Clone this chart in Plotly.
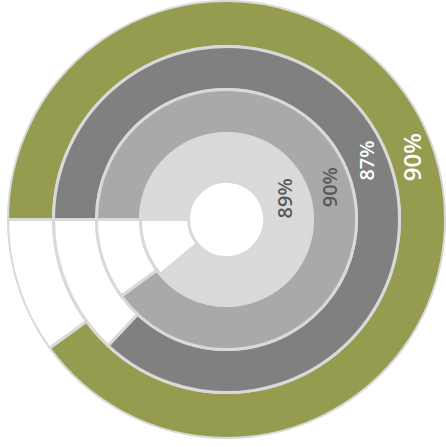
import plotly.graph_objects as go
import math

# Data (outer ring first)
rings = ["Ring 1", "Ring 2", "Ring 3", "Ring 4"]
values = [90, 87, 90, 89]
labels = ["90%", "87%", "90%", "89%"]

# Styling
colors = ["#959c4f", "#808080", "#a9a9a9", "#dadada"]
label_colors = ["#ffffff", "#ffffff", "#5a5a5a", "#5a5a5a"]
label_sizes = [24, 20, 20, 20]
label_angles = [18.6, 22.9, 17.6, 19.7]  # degrees above 3 o'clock
ring_edges = [219, 173, 130, 86, 38]       # radii in px units
border = "#d9d9d9"

W, H = 446, 447
dom_x = [7 / W, 1.0]
dom_y = [(H - 439) / H, 1.0]
R = 219.5

fig = go.Figure()
for i, (name, v) in enumerate(zip(rings, values)):
    r_out, r_in = ring_edges[i], ring_edges[i + 1]
    span = v / 100 * 360
    fig.add_trace(go.Barpolar(
        r=[r_out - r_in, r_out - r_in],
        base=[r_in, r_in],
        theta=[span / 2, span + (360 - span) / 2],
        width=[span, 360 - span],
        marker=dict(color=[colors[i], "#ffffff"], line=dict(color=border, width=3)),
        name=name, hoverinfo="skip", showlegend=False,
    ))

cxp = (dom_x[0] + dom_x[1]) / 2 * W
cyp = (dom_y[0] + dom_y[1]) / 2 * H
annotations = []
for i, lab in enumerate(labels):
    rm = (ring_edges[i] + ring_edges[i + 1]) / 2
    a = math.radians(label_angles[i])
    px = cxp + rm * math.cos(a)
    py = cyp + rm * math.sin(a)
    annotations.append(dict(
        x=px / W, y=py / H, xref="paper", yref="paper", text=lab,
        showarrow=False, textangle=-90,
        font=dict(family="Open Sans", size=label_sizes[i], color=label_colors[i],
                  weight=600),
        xanchor="center", yanchor="middle",
    ))

fig.update_layout(
    width=W, height=H,
    margin=dict(l=0, r=0, t=0, b=0),
    paper_bgcolor="white", plot_bgcolor="white",
    polar=dict(
        domain=dict(x=dom_x, y=dom_y),
        bgcolor="white",
        bargap=0,
        radialaxis=dict(range=[0, R], visible=False, showgrid=False),
        angularaxis=dict(rotation=180, direction="clockwise", visible=False,
                         showgrid=False, showline=False, ticks=""),
    ),
    annotations=annotations,
)
fig.write_html("out.html", config={"displayModeBar": False},
               post_script="document.body.style.margin='0';")
